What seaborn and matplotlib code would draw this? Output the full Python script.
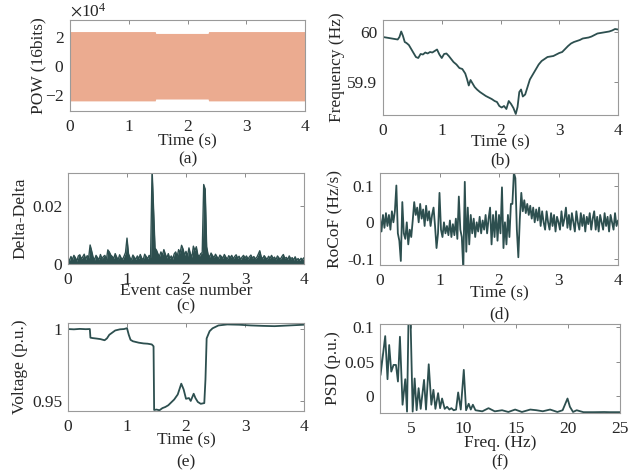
import numpy as np
import matplotlib
matplotlib.use("Agg")
import matplotlib.pyplot as plt
import matplotlib.ticker as mticker
import seaborn as sns

# (a) point-on-wave envelope (the 60 Hz wave is too dense to resolve, drawn as a band)
pow_t = [0.0, 1.45, 1.46, 2.35, 2.36, 4.0]
pow_amp = [24000, 24000, 22700, 22700, 24000, 24000]

# (b) frequency
freq_t = [0.0, 0.05, 0.10, 0.15, 0.20, 0.25, 0.28, 0.31, 0.34, 0.37, 0.40, 0.44, 0.48, 0.52, 0.56,
          0.60, 0.64, 0.68, 0.72, 0.76, 0.80, 0.84, 0.88, 0.92, 0.96, 1.00, 1.04, 1.08, 1.12,
          1.16, 1.20, 1.25, 1.30, 1.35, 1.40, 1.43, 1.46, 1.49, 1.52, 1.56, 1.60, 1.65, 1.70,
          1.75, 1.80, 1.85, 1.90, 1.94, 1.98, 2.02, 2.06, 2.10, 2.14, 2.18, 2.22, 2.26, 2.29,
          2.32, 2.35, 2.38, 2.42, 2.46, 2.50, 2.55, 2.60, 2.65, 2.70, 2.75, 2.80, 2.85, 2.90,
          2.95, 3.00, 3.05, 3.10, 3.15, 3.20, 3.25, 3.30, 3.35, 3.40, 3.45, 3.50, 3.55, 3.60,
          3.65, 3.70, 3.75, 3.80, 3.85, 3.90, 3.95, 4.0]
freq_hz = [59.990, 59.989, 59.988, 59.987, 59.986, 59.985, 59.990, 60.001, 59.992, 59.980, 59.978,
           59.974, 59.966, 59.958, 59.950, 59.948, 59.956, 59.955, 59.959, 59.957, 59.960,
           59.959, 59.962, 59.965, 59.955, 59.948, 59.956, 59.957, 59.952, 59.946, 59.940,
           59.935, 59.928, 59.926, 59.917, 59.906, 59.893, 59.904, 59.898, 59.890, 59.885,
           59.880, 59.876, 59.872, 59.869, 59.866, 59.862, 59.860, 59.852, 59.849, 59.852,
           59.846, 59.862, 59.856, 59.848, 59.836, 59.850, 59.880, 59.885, 59.871, 59.875,
           59.890, 59.905, 59.915, 59.925, 59.935, 59.942, 59.946, 59.950, 59.951, 59.952,
           59.955, 59.958, 59.960, 59.966, 59.972, 59.977, 59.980, 59.982, 59.984, 59.987,
           59.988, 59.989, 59.991, 59.994, 59.997, 59.998, 59.999, 60.000, 60.001, 60.003,
           60.006, 60.005]

# (c) delta-delta, 0.025 s steps
dd_t = np.arange(161) * 0.025
dd_val = np.array([
    2.0, 1.2, 2.6, 1.5, 3.0, 2.2, 1.0, 2.8, 3.2, 1.8,
    2.5, 3.4, 1.6, 2.9, 2.1, 6.6, 4.6, 2.4, 1.4, 3.0,
    2.2, 1.5, 3.3, 1.8, 2.6, 3.0, 1.4, 4.9, 4.2, 3.1,
    2.6, 1.9, 3.6, 2.4, 1.5, 3.2, 2.1, 1.6, 2.7, 4.0,
    9.0, 3.6, 2.2, 1.4, 3.1, 2.3, 1.6, 2.8, 1.9, 3.3,
    2.0, 1.5, 3.4, 2.6, 1.8, 3.0, 2.4, 33.0, 19.0, 5.5,
    4.8, 3.5, 2.6, 4.2, 3.0, 5.0, 3.4, 2.1, 3.6, 1.9,
    2.8, 1.7, 3.5, 4.2, 2.5, 5.0, 3.8, 6.5, 5.2, 3.0,
    4.4, 2.6, 5.6, 3.5, 2.4, 6.2, 4.6, 6.0, 3.2, 2.6,
    3.6, 4.0, 27.6, 26.0, 6.0, 3.2, 2.4, 3.8, 2.9, 2.2,
    3.4, 2.5, 1.8, 3.1, 2.6, 2.0, 3.3, 2.4, 1.7, 2.9,
    2.2, 3.0, 1.8, 2.6, 3.2, 2.0, 2.7, 1.6, 2.4, 3.0,
    2.1, 2.8, 1.7, 2.5, 3.1, 2.0, 2.6, 1.8, 2.3, 3.4,
    4.6, 2.5, 1.8, 2.9, 2.2, 1.6, 2.7, 2.0, 3.0, 1.9,
    2.4, 1.5, 2.8, 2.1, 1.7, 2.6, 3.3, 1.9, 2.3, 1.6,
    2.8, 1.8, 2.2, 1.4, 2.5, 1.3, 1.9, 1.2, 2.0, 1.5,
    2.2]) * 1e-3

# (d) RoCoF, 0.025 s steps
rocof_t = np.arange(161) * 0.025
rocof_val = [
    0.015, -0.025, 0.02, -0.015, 0.025, -0.01, 0.02, -0.02, 0.03, 0.0,
    0.03, 0.10, -0.03, -0.05, -0.105, 0.055, -0.03, -0.045, 0.0, -0.06,
    -0.02, -0.04, 0.005, 0.055, 0.02, 0.04, 0.0, 0.05, 0.01, 0.035,
    -0.01, 0.045, 0.005, 0.03, -0.01, 0.02, 0.04, -0.01, -0.07, -0.03,
    0.08, -0.02, -0.04, 0.0, -0.03, -0.01, -0.035, 0.005, -0.04, -0.005,
    -0.035, 0.01, -0.045, 0.07, -0.02, -0.04, -0.13, 0.11, -0.08, 0.04,
    -0.06, 0.02, -0.03, 0.01, -0.04, 0.0, -0.025, 0.015, -0.03, 0.005,
    -0.02, 0.02, -0.03, 0.01, 0.04, -0.06, 0.02, -0.04, 0.03, -0.05,
    0.02, -0.03, 0.095, -0.07, 0.0, -0.06, 0.02, -0.04, 0.05, 0.05,
    0.135, 0.12, -0.02, -0.095, 0.01, 0.08, 0.03, 0.06, 0.025, 0.05,
    0.02, 0.045, 0.01, 0.04, 0.0, 0.035, 0.005, 0.04, -0.01, 0.03,
    0.0, -0.02, 0.03, 0.0, -0.02, 0.025, -0.01, 0.02, -0.025, 0.015,
    0.0, -0.02, 0.03, -0.01, 0.01, 0.04, -0.015, 0.02, -0.02, 0.025,
    0.0, -0.025, 0.03, 0.0, -0.02, 0.025, -0.01, 0.02, -0.025, 0.015,
    -0.005, 0.025, -0.02, 0.01, 0.03, -0.02, 0.015, -0.025, 0.02, 0.0,
    -0.02, 0.025, -0.01, 0.015, -0.025, 0.02, 0.0, -0.02, 0.025, -0.01,
    0.005]

# (e) voltage
volt_t = [0.0, 0.10, 0.20, 0.30, 0.37, 0.38, 0.42, 0.48, 0.55, 0.62, 0.66, 0.70, 0.75, 0.80,
          0.88, 0.95, 1.00, 1.03, 1.06, 1.10, 1.15, 1.20, 1.28, 1.35, 1.42, 1.45, 1.46,
          1.50, 1.55, 1.60, 1.65, 1.70, 1.75, 1.80, 1.86, 1.92, 1.96, 2.00, 2.05, 2.08,
          2.13, 2.16, 2.20, 2.25, 2.31, 2.33, 2.35, 2.40, 2.45, 2.55, 2.70, 2.90, 3.10,
          3.30, 3.50, 3.70, 3.90, 4.0]
volt_pu = [1.0000, 0.9998, 1.0001, 0.9999, 1.0000, 0.9940, 0.9937, 0.9934, 0.9930, 0.9922,
           0.9935, 0.9960, 0.9975, 0.9990, 0.9998, 1.0000, 1.0006, 0.9960, 0.9925, 0.9915,
           0.9910, 0.9905, 0.9900, 0.9898, 0.9893, 0.9880, 0.9437, 0.9440, 0.9435, 0.9450,
           0.9458, 0.9470, 0.9490, 0.9510, 0.9545, 0.9620, 0.9580, 0.9515, 0.9520, 0.9500,
           0.9550, 0.9520, 0.9493, 0.9480, 0.9485, 0.9650, 0.9935, 0.9985, 1.0005, 1.0025,
           1.0032, 1.0030, 1.0025, 1.0022, 1.0020, 1.0024, 1.0028, 1.0030]

# (f) PSD
psd_f = [2.02, 2.05, 2.5, 2.72, 2.88, 3.08, 3.3, 3.53, 3.72, 3.91, 4.16, 4.42, 4.59, 4.74,
         4.93, 5.13, 5.32, 5.51, 5.7, 5.9, 6.22, 6.41, 6.67, 6.92, 7.12, 7.31, 7.57, 7.76,
         7.95, 8.2, 8.43, 8.65, 8.84, 9.06, 9.29, 9.49, 9.74, 10.03, 10.25, 10.5, 10.7,
         10.9, 11.15, 11.8, 12.4, 13.0, 13.7, 14.3, 14.95, 15.6, 16.4, 17.0, 17.6, 18.3,
         19.0, 19.5, 19.97, 20.2, 20.5, 20.85, 21.5, 22.5, 23.5, 24.0, 25.0]
psd_val = [0.062, 0.031, 0.0875, 0.025, 0.0745, 0.036, 0.0457, 0.0457, 0.0216, 0.0865,
           -0.012, 0.025, -0.022, 0.12, 0.11, -0.022, 0.026, -0.020, 0.012, -0.018,
           0.024, -0.019, 0.0466, -0.012, 0.0096, -0.018, 0.0048, -0.017, -0.003, -0.018,
           -0.015, -0.019, -0.017, -0.020, -0.019, 0.0058, -0.019, 0.0385, -0.020, -0.0106,
           -0.019, -0.012, -0.020, -0.0216, -0.017, -0.0216, -0.020, -0.0225, -0.019,
           -0.0225, -0.019, -0.020, -0.0215, -0.019, -0.0225, -0.020, -0.003, -0.015,
           -0.0225, -0.020, -0.0228, -0.0228, -0.0226, -0.0228, -0.0228]

line_color = "#2D4F4F"
W, H = 641, 476
FS = 12.5

sns.set_theme(style="white")
plt.rcParams["font.family"] = ["Liberation Serif", "DejaVu Serif"]
plt.rcParams["mathtext.fontset"] = "stix"
plt.rcParams["font.size"] = FS

fig = plt.figure(figsize=(W / 100, H / 100), dpi=100)


def make_ax(l, t, r, b):
    return fig.add_axes([l / W, 1 - b / H, (r - l) / W, (b - t) / H])


def style(ax, xlabel, ylabel, xl_y, yl_x, tag, tag_y):
    for s in ax.spines.values():
        s.set_color("#9a9a9a")
        s.set_linewidth(0.8)
    ax.tick_params(direction="in", top=True, right=True, length=3, width=0.6,
                   color="#777777", labelsize=FS, labelcolor="#262626")
    ax.tick_params(axis="x", pad=6)
    ax.tick_params(axis="y", pad=4)
    ax.set_xlabel(xlabel, fontsize=FS, color="#262626", va="center")
    ax.set_ylabel(ylabel, fontsize=FS, color="#262626", va="center")
    pos = ax.get_position()
    ax.xaxis.set_label_coords(pos.x0 + pos.width / 2, 1 - xl_y / H, transform=fig.transFigure)
    ax.yaxis.set_label_coords(yl_x / W, pos.y0 + pos.height / 2, transform=fig.transFigure)
    fig.text(pos.x0 + pos.width / 2, 1 - tag_y / H, tag, ha="center", va="center",
             fontsize=FS, color="#262626")


# (a)
ax = make_ax(70, 20, 305, 111)
ax.fill_between(pow_t, [-a for a in pow_amp], pow_amp, color="#EBAB90", lw=0)
ax.set_xlim(0, 4)
ax.set_ylim(-31000, 32000)
ax.set_xticks([0, 1, 2, 3, 4])
ax.set_yticks([-20000, 0, 20000])
fmt = mticker.ScalarFormatter(useMathText=True)
fmt.set_powerlimits((0, 0))
ax.yaxis.set_major_formatter(fmt)
ax.yaxis.get_offset_text().set_fontsize(FS)
style(ax, "Time (s)", "POW (16bits)", 141, 38, "(a)", 159)

# (b)
ax = make_ax(383, 20, 618, 115)
sns.lineplot(x=freq_t, y=freq_hz, ax=ax, color=line_color, lw=1.3, sort=False, estimator=None)
ax.set_xlim(0, 4)
ax.set_ylim(59.834, 60.024)
ax.set_xticks([0, 1, 2, 3, 4])
ax.set_yticks([59.9, 60.0])
ax.set_yticklabels(["59.9", "60"])
style(ax, "Time (s)", "Frequency (Hz)", 142, 337, "(b)", 160)

# (c)
ax = make_ax(68, 173, 304, 264)
ax.fill_between(dd_t, 0, dd_val, color=line_color, lw=0)
sns.lineplot(x=dd_t, y=dd_val, ax=ax, color=line_color, lw=1.0, sort=False, estimator=None)
ax.set_xlim(0, 4)
ax.set_ylim(0, 0.0316)
ax.set_xticks([0, 1, 2, 3, 4])
ax.set_yticks([0, 0.02])
ax.set_yticklabels(["0", "0.02"])
style(ax, "Event case number", "Delta-Delta", 291, 20, "(c)", 306)

# (d)
ax = make_ax(380, 173, 618, 265)
sns.lineplot(x=rocof_t, y=rocof_val, ax=ax, color=line_color, lw=1.3, sort=False, estimator=None)
ax.set_xlim(0, 4)
ax.set_ylim(-0.116, 0.134)
ax.set_xticks([0, 1, 2, 3, 4])
ax.set_yticks([-0.1, 0, 0.1])
ax.set_yticklabels(["-0.1", "0", "0.1"])
style(ax, "Time (s)", "RoCoF (Hz/s)", 293, 335, "(d)", 314)

# (e)
ax = make_ax(68, 323, 304, 411)
sns.lineplot(x=volt_t, y=volt_pu, ax=ax, color=line_color, lw=1.3, sort=False, estimator=None)
ax.set_xlim(0, 4)
ax.set_ylim(0.943, 1.0042)
ax.set_xticks([0, 1, 2, 3, 4])
ax.set_yticks([0.95, 1.0])
ax.set_yticklabels(["0.95", "1"])
style(ax, "Time (s)", "Voltage (p.u.)", 440, 20, "(e)", 462)

# (f)
ax = make_ax(380, 324, 620, 413)
sns.lineplot(x=psd_f, y=psd_val, ax=ax, color=line_color, lw=1.3, sort=False, estimator=None)
ax.set_xlim(2, 25)
ax.set_ylim(-0.024, 0.105)
ax.set_xticks([5, 10, 15, 20, 25])
ax.set_yticks([0, 0.05, 0.1])
ax.set_yticklabels(["0", "0.05", "0.1"])
style(ax, "Freq. (Hz)", "PSD (p.u.)", 443, 333, "(f)", 462)

fig.savefig("out.png", dpi=100)
